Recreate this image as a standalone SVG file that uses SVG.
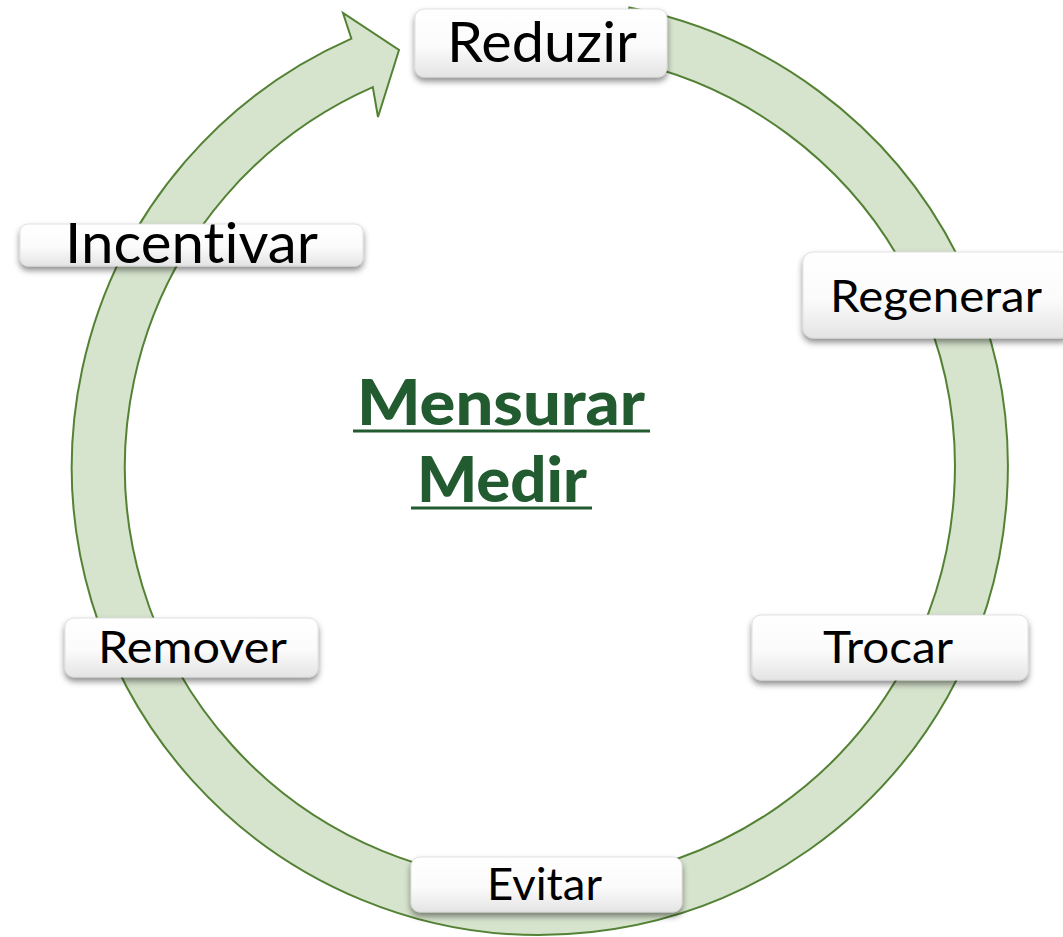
<svg xmlns="http://www.w3.org/2000/svg" width="1063" height="937" viewBox="0 0 1063 937">
  <defs>
    <linearGradient id="boxGrad" x1="0" y1="0" x2="0" y2="1">
      <stop offset="0" stop-color="#ffffff"/>
      <stop offset="0.55" stop-color="#fbfbfb"/>
      <stop offset="1" stop-color="#e4e4e4"/>
    </linearGradient>
    <filter id="shadow" x="-10%" y="-20%" width="120%" height="160%">
      <feDropShadow dx="0" dy="4" stdDeviation="3" flood-color="#000" flood-opacity="0.45"/>
    </filter>
  </defs>
  <style>
    .ring { fill: #d6e3cd; stroke: #548235; stroke-width: 2; }
    .box { fill: url(#boxGrad); stroke: #d9d9d9; stroke-width: 0.8; filter: url(#shadow); }
    text { font-variant-ligatures: none; }
    .lbl { font-family: Lato, "Open Sans", "Liberation Sans", sans-serif; fill: #000; text-anchor: middle; }
    .big { font-size: 56px; }
    .mid { font-size: 45px; }
    .center { font-family: Lato, "Open Sans", "Liberation Sans", sans-serif; font-weight: 900; font-size: 63px; fill: #225b30; text-anchor: middle; }
    .ul { stroke: #225b30; stroke-width: 3; }
  </style>
  <rect width="1063" height="937" fill="#ffffff"/>
  <g id="connectors">
    <path class="ring" d="M 629.3 7.6 A 468 468 0 1 1 351.4 38.6 L 343 13 L 399 50 L 378 117 L 372.8 87.1 A 415 415 0 1 0 619.2 59.6 Z"/>
  </g>
  <g id="center">
    <text class="center" x="501" y="425" textLength="288" lengthAdjust="spacingAndGlyphs">Mensurar</text>
    <line class="ul" x1="353" y1="431" x2="650" y2="431"/>
    <text class="center" x="502" y="502" textLength="170" lengthAdjust="spacingAndGlyphs">Medir</text>
    <line class="ul" x1="411" y1="508" x2="592" y2="508"/>
  </g>
  <g id="node-reduzir">
    <rect class="box" x="415" y="9" width="252" height="68" rx="9"/>
    <text class="lbl big" x="542" y="62" textLength="190" lengthAdjust="spacingAndGlyphs">Reduzir</text>
  </g>
  <g id="node-incentivar">
    <rect class="box" x="20" y="224" width="343" height="42" rx="8"/>
    <text class="lbl big" x="191.5" y="263" textLength="253" lengthAdjust="spacingAndGlyphs">Incentivar</text>
  </g>
  <g id="node-regenerar">
    <rect class="box" x="803" y="252" width="268" height="86" rx="10"/>
    <text class="lbl mid" x="936" y="312" textLength="212" lengthAdjust="spacingAndGlyphs">Regenerar</text>
  </g>
  <g id="node-trocar">
    <rect class="box" x="752" y="615" width="276" height="65" rx="9"/>
    <text class="lbl mid" x="888" y="663" textLength="130" lengthAdjust="spacingAndGlyphs">Trocar</text>
  </g>
  <g id="node-evitar">
    <rect class="box" x="411" y="857" width="271" height="55" rx="9"/>
    <text class="lbl mid" x="544.5" y="900" textLength="115" lengthAdjust="spacingAndGlyphs">Evitar</text>
  </g>
  <g id="node-remover">
    <rect class="box" x="65" y="618" width="253" height="59" rx="9"/>
    <text class="lbl mid" x="192.5" y="663" textLength="189" lengthAdjust="spacingAndGlyphs">Remover</text>
  </g>
</svg>
